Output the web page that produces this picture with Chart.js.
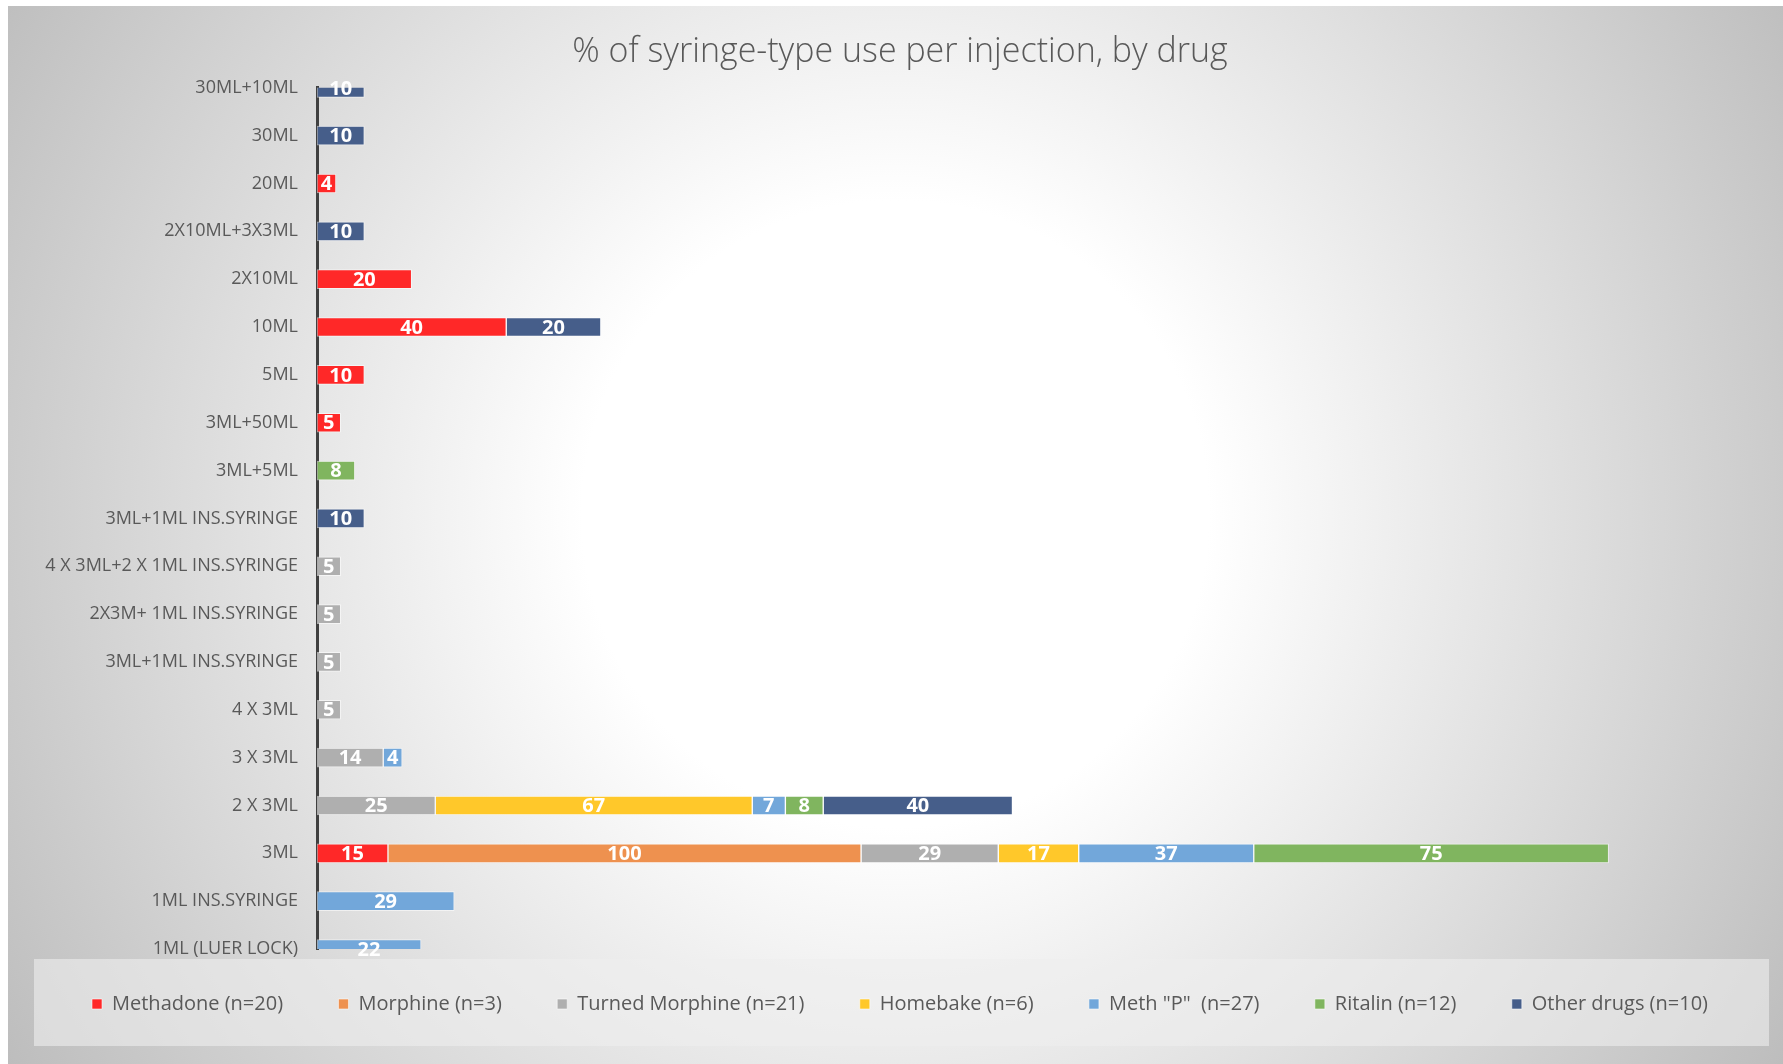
<!DOCTYPE html>
<html>
<head>
<meta charset="utf-8">
<script src="https://cdn.jsdelivr.net/npm/chart.js@4.4.1/dist/chart.umd.min.js"></script>
<style>
  html, body { margin: 0; padding: 0; background: #fff; }
  #frame {
    position: absolute; left: 8px; top: 6px; width: 1775px; height: 1058px;
    background: radial-gradient(circle farthest-corner at 50% 48%, #ffffff 0%, #ffffff 30%, #bdbdbd 100%);
  }
  #chart { position: absolute; left: 0; top: 0; }
</style>
</head>
<body>
<div id="frame"></div>
<canvas id="chart" width="1783" height="1064"></canvas>
<script>
// categories, top to bottom
const categorias = [
    '30ML+10ML', '30ML', '20ML', '2X10ML+3X3ML', '2X10ML', '10ML', '5ML', '3ML+50ML', '3ML+5ML',
    '3ML+1ML INS.SYRINGE', '4 X 3ML+2 X 1ML INS.SYRINGE', '2X3M+ 1ML INS.SYRINGE', '3ML+1ML INS.SYRINGE',
    '4 X 3ML', '3 X 3ML', '2 X 3ML', '3ML', '1ML INS.SYRINGE', '1ML (LUER LOCK)'
];
const methadone      = [null, null, 4, null, 20, 40, 10, 5, null, null, null, null, null, null, null, null, 15, null, null];
const morphine       = [null, null, null, null, null, null, null, null, null, null, null, null, null, null, null, null, 100, null, null];
const turnedMorphine = [null, null, null, null, null, null, null, null, null, null, 5, 5, 5, 5, 14, 25, 29, null, null];
const homebake       = [null, null, null, null, null, null, null, null, null, null, null, null, null, null, null, 67, 17, null, null];
const methP          = [null, null, null, null, null, null, null, null, null, null, null, null, null, null, 4, 7, 37, 29, 22];
const ritalin        = [null, null, null, null, null, null, null, null, 8, null, null, null, null, null, null, 8, 75, null, null];
const outrasDrogas   = [10, 10, null, 10, null, 20, null, null, null, 10, null, null, null, null, null, 40, null, null, null];

const series = [
    { label: 'Methadone (n=20)', data: methadone, cor: '#FF2828' },
    { label: 'Morphine (n=3)', data: morphine, cor: '#EE914F' },
    { label: 'Turned Morphine (n=21)', data: turnedMorphine, cor: '#AFAFAF' },
    { label: 'Homebake (n=6)', data: homebake, cor: '#FFC82A' },
    { label: 'Meth "P"  (n=27)', data: methP, cor: '#72A7DA' },
    { label: 'Ritalin (n=12)', data: ritalin, cor: '#80B55F' },
    { label: 'Other drugs (n=10)', data: outrasDrogas, cor: '#465E8A' },
];

const fonte = "'Open Sans', 'DejaVu Sans', sans-serif";

// caixa cinza da legenda
const fundoLegenda = {
    id: 'fundoLegenda',
    beforeDraw(chart) {
        const {ctx} = chart;
        ctx.save();
        ctx.fillStyle = 'rgba(238,238,238,0.6)';
        ctx.fillRect(34, 959, 1735, 87);
        ctx.restore();
    }
};

// valores brancos dentro das barras
const rotulosBarras = {
    id: 'rotulosBarras',
    afterDatasetsDraw(chart) {
        const {ctx} = chart;
        ctx.save();
        ctx.font = `bold 20px ${fonte}`;
        ctx.fillStyle = '#ffffff';
        ctx.textAlign = 'center';
        ctx.textBaseline = 'middle';
        chart.data.datasets.forEach((ds, i) => {
            const meta = chart.getDatasetMeta(i);
            meta.data.forEach((barra, j) => {
                const v = ds.data[j];
                if (v == null) return;
                const {x, base, y} = barra.getProps(['x', 'base', 'y'], true);
                ctx.fillText(String(v), (x + base) / 2, y + 1);
            });
        });
        ctx.restore();
    }
};

const main = () => {
    const ctx = document.getElementById('chart');
    const gerarPadrao = Chart.defaults.plugins.legend.labels.generateLabels;
    new Chart(ctx, {
        type: 'bar',
        data: {
            labels: categorias,
            datasets: series.map(s => ({
                label: s.label,
                data: s.data,
                backgroundColor: s.cor,
                borderColor: 'rgba(255,255,255,0.55)',
                borderWidth: 1,
                borderSkipped: false,
                barThickness: 19,
            }))
        },
        options: {
            indexAxis: 'y',
            responsive: false,
            animation: false,
            layout: { padding: { left: 40, right: 23, top: 0, bottom: 40 } },
            scales: {
                x: { stacked: true, display: false, min: 0, max: 305 },
                y: {
                    stacked: true,
                    offset: false,
                    afterFit: (scale) => { scale.width = 277; },
                    grid: { display: false, drawTicks: false },
                    border: { display: true, color: '#404040', width: 3 },
                    ticks: { color: '#595959', padding: 19, autoSkip: false, font: { family: fonte, size: 18 } }
                }
            },
            plugins: {
                title: {
                    display: true,
                    text: '% of syringe-type use per injection, by drug',
                    color: '#595959',
                    font: { family: fonte, size: 34, weight: '300' },
                    padding: { top: 32, bottom: 15 }
                },
                legend: {
                    position: 'bottom',
                    labels: {
                        color: '#595959',
                        boxWidth: 10,
                        boxHeight: 10,
                        padding: 45,
                        font: { family: fonte, size: 20 },
                        // espaço extra entre os itens (menos no último), sem mexer na altura da legenda
                        generateLabels: (chart) => {
                            const itens = gerarPadrao(chart);
                            return itens.map((item, i) => ({...item, text: i < itens.length - 1 ? item.text + '  ' : item.text}));
                        }
                    }
                },
                tooltip: { enabled: false }
            }
        },
        plugins: [fundoLegenda, rotulosBarras]
    });
};
main();
</script>
</body>
</html>
